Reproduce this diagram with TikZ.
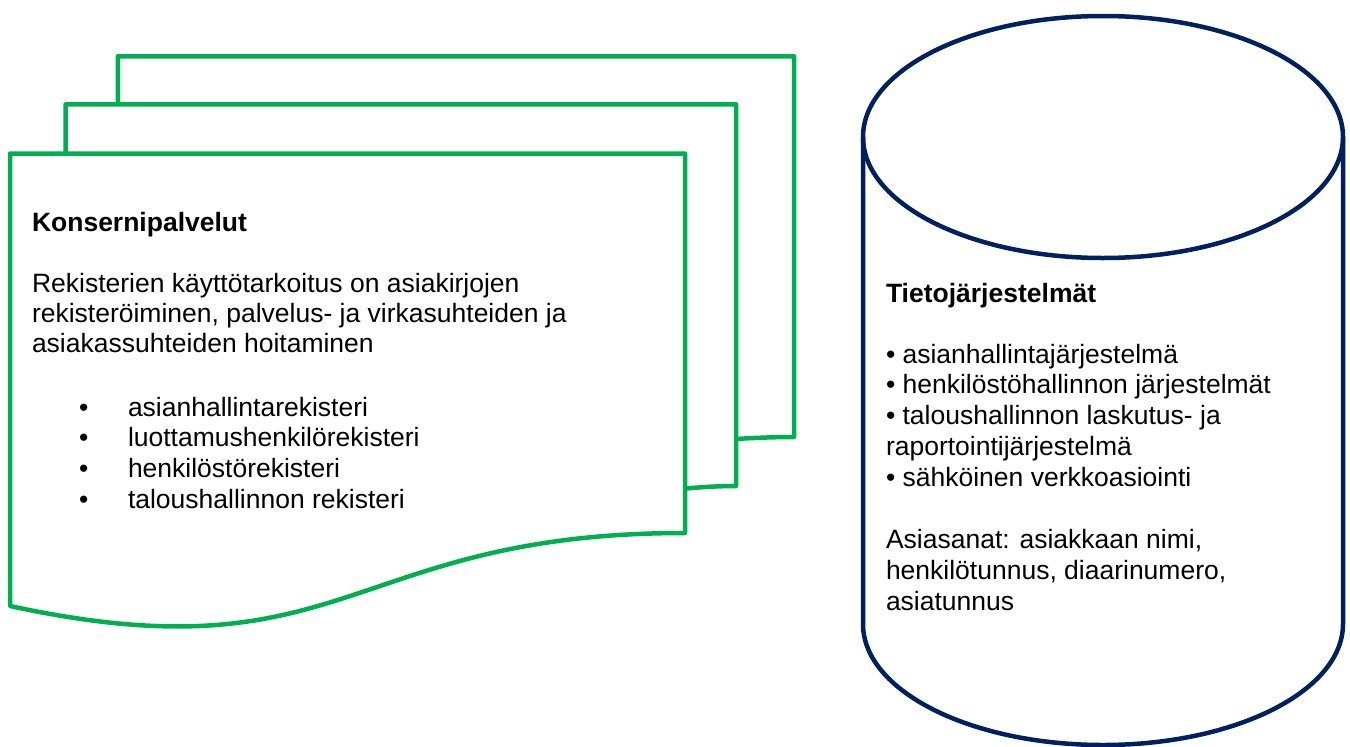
\documentclass[tikz,border=0pt]{standalone}
\usepackage{fontspec}
\setmainfont{Liberation Sans}
\definecolor{docgreen}{HTML}{00B050}
\definecolor{navyblue}{HTML}{002060}
\begin{document}
\begin{tikzpicture}[x=1pt,y=-1pt,
  pageline/.style={draw=docgreen,line width=4.5pt,line join=round},
  cylline/.style={draw=navyblue,line width=4.5pt,line join=round},
  txt/.style={anchor=base west,inner sep=0pt,outer sep=0pt,align=left,
    font=\fontsize{26.5}{30}\selectfont},
  txtwide/.style={txt,font=\fontsize{26.5}{30.6}\selectfont}]
\useasboundingbox (0,0) rectangle (1350,747);
% back page
\draw[pageline] (117.9,104.3) -- (117.9,56.3) -- (794,56.3) -- (794,437)
  .. controls (765,437) and (736,439) .. (736,439);
% middle page
\draw[pageline] (65.6,153.5) -- (65.6,104.3) -- (736,104.3) -- (736,486)
  .. controls (710.5,486) and (685,488.6) .. (685,488.6);
% front page
\draw[pageline,fill=white] (10,153.5) -- (685,153.5) -- (685,533)
  .. controls (347.5,533) and (347.5,679) .. (10,606) -- cycle;
% cylinder
\draw[cylline,fill=white] (863,137) -- (863,624)
  arc[start angle=180,end angle=0,x radius=240,y radius=121] -- (1343,137);
\draw[cylline] (1103,137) ellipse [x radius=240,y radius=121];
% left texts (base anchor = baseline of the last line)
\node[txt,font=\fontsize{26.5}{30}\selectfont\bfseries] (ktitle) at (32,231) {Konsernipalvelut};
\node[txt] (kpara) at (32,352) {Rekisterien käyttötarkoitus on asiakirjojen\\rekisteröiminen, palvelus- ja virkasuhteiden ja\\asiakassuhteiden hoitaminen};
\node[txtwide] (kbullets) at (79,508) {•\\•\\•\\•};
\node[txtwide] (klist) at (128,508) {asianhallintarekisteri\\luottamushenkilörekisteri\\henkilöstörekisteri\\taloushallinnon rekisteri};
% right texts
\node[txt,font=\fontsize{26.5}{30}\selectfont\bfseries] (ttitle) at (886,302) {Tietojärjestelmät};
\node[txt,font=\fontsize{26.5}{30.75}\selectfont] (tlist) at (886,486) {• asianhallintajärjestelmä\\• henkilöstöhallinnon järjestelmät\\• taloushallinnon laskutus- ja\\raportointijärjestelmä\\• sähköinen verkkoasiointi};
\node[txtwide] (twords) at (886,610) {Asiasanat: asiakkaan nimi,\\henkilötunnus, diaarinumero,\\asiatunnus};
\end{tikzpicture}
\end{document}
